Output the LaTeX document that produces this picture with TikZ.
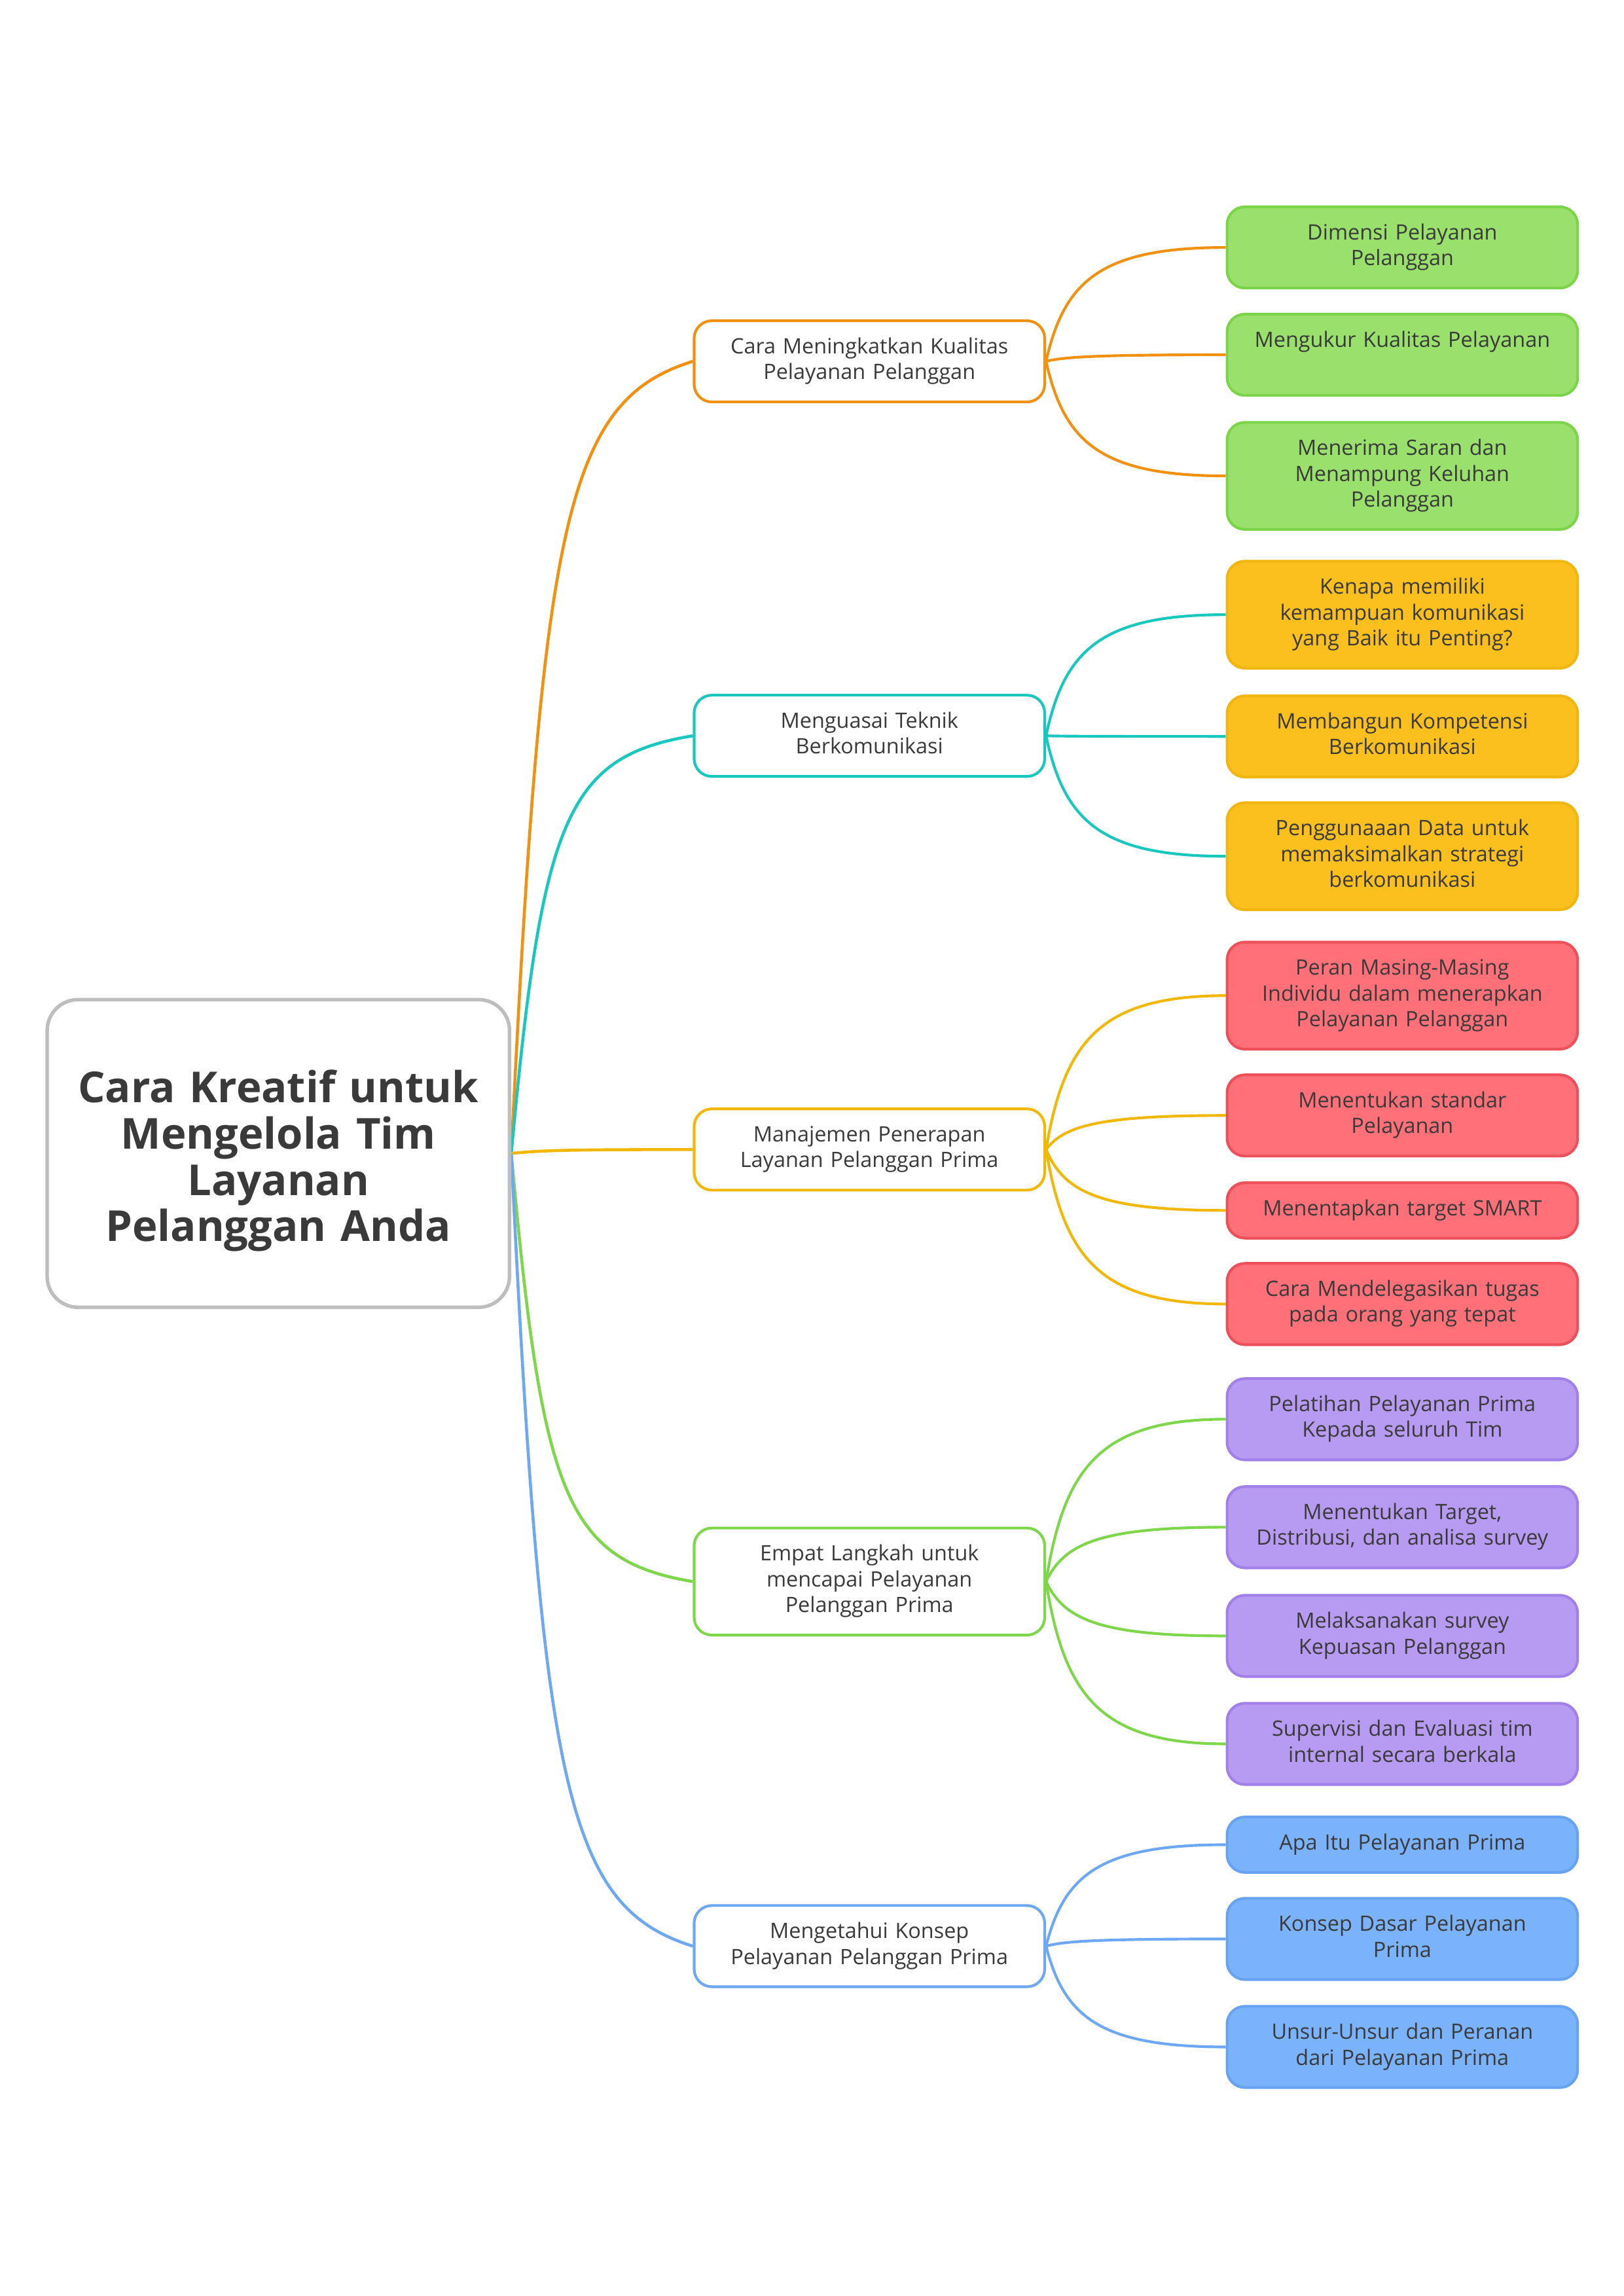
\documentclass[tikz,border=0pt]{standalone}
\usepackage{fontspec}
\setmainfont{Open Sans}
\usetikzlibrary{calc,backgrounds}
\definecolor{InkGray}{RGB}{58,58,58}
\definecolor{RootGray}{RGB}{190,190,190}
\definecolor{BrOrange}{RGB}{242,145,17}
\definecolor{BrTeal}{RGB}{24,200,190}
\definecolor{BrYellow}{RGB}{242,184,8}
\definecolor{BrGreen}{RGB}{126,214,74}
\definecolor{BrBlue}{RGB}{110,168,245}
\definecolor{LfGreen}{RGB}{153,225,108}
\definecolor{LfGreenD}{RGB}{124,212,72}
\definecolor{LfAmber}{RGB}{252,192,30}
\definecolor{LfAmberD}{RGB}{242,182,16}
\definecolor{LfRed}{RGB}{255,112,120}
\definecolor{LfRedD}{RGB}{238,80,90}
\definecolor{LfPurple}{RGB}{183,154,242}
\definecolor{LfPurpleD}{RGB}{162,128,234}
\definecolor{LfBlue}{RGB}{122,179,252}
\definecolor{LfBlueD}{RGB}{104,162,242}

% curved links: root -> topic, topic -> leaf
\newcommand{\rootlink}[2]{%
  \draw[#1,line width=1.1pt] let \p1=(root.east), \p2=(#2.west) in
    (\p1) .. controls ({\x1+0.17*(\x2-\x1)},{\y1+0.8*(\y2-\y1)})
      and ({\x1+0.3*(\x2-\x1)},{\y1+0.95*(\y2-\y1)}) .. (\p2);}
\newcommand{\leaflink}[3]{%
  \draw[#1,line width=1pt] let \p1=(#2.east), \p2=(#3.west) in
    (\p1) .. controls ({\x1+0.1*(\x2-\x1)},{\y1+0.7*(\y2-\y1)})
      and ({\x1+0.3*(\x2-\x1)},\y2) .. (\p2);}

\begin{document}
\begin{tikzpicture}[
  root/.style={draw=RootGray,fill=white,line width=1.3pt,rounded corners=0.4cm,
               minimum width=5.98cm,minimum height=3.98cm,
               text width=5.6cm,align=center,text=InkGray,
               font={\fontsize{15.7}{17}\selectfont\bfseries}},
  topic/.style={fill=white,line width=1pt,rounded corners=0.23cm,
                minimum width=4.5cm,text width=4.3cm,align=center,
                inner ysep=5.45pt,text=InkGray,
                font={\fontsize{7.8}{9.5}\selectfont},
                execute at begin node=\strut,execute at end node=\strut},
  leaf/.style={topic},
  gleaf/.style={leaf,draw=LfGreenD,fill=LfGreen},
  aleaf/.style={leaf,draw=LfAmberD,fill=LfAmber},
  rleaf/.style={leaf,draw=LfRedD,fill=LfRed},
  pleaf/.style={leaf,draw=LfPurpleD,fill=LfPurple},
  bleaf/.style={leaf,draw=LfBlueD,fill=LfBlue},
]
\useasboundingbox (0,0) rectangle (21,-29.7);

\node[root] (root) at (3.6,-14.92)
  {\rule{0pt}{17.5pt}Cara Kreatif untuk\\Mengelola Tim\\Layanan\\Pelanggan Anda};

% topics
\node[topic,draw=BrOrange] (kualitas) at (11.245,-4.674)
  {Cara Meningkatkan Kualitas\\Pelayanan Pelanggan};
\node[topic,draw=BrTeal] (teknik) at (11.245,-9.518)
  {Menguasai Teknik\\Berkomunikasi};
\node[topic,draw=BrYellow] (manajemen) at (11.245,-14.869)
  {Manajemen Penerapan\\Layanan Pelanggan Prima};
\node[topic,draw=BrGreen] (langkah) at (11.245,-20.458)
  {Empat Langkah untuk\\mencapai Pelayanan\\Pelanggan Prima};
\node[topic,draw=BrBlue] (konsep) at (11.245,-25.174)
  {Mengetahui Konsep\\Pelayanan Pelanggan Prima};

% leaves
\node[gleaf] (dimensi) at (18.138,-3.201) {Dimensi Pelayanan\\Pelanggan};
\node[gleaf] (ukur) at (18.138,-4.589) {Mengukur Kualitas Pelayanan\\\mbox{}};
\node[gleaf] (saran) at (18.138,-6.156)
  {Menerima Saran dan\\Menampung Keluhan\\Pelanggan};

\node[aleaf] (kenapa) at (18.138,-7.951)
  {Kenapa memiliki\\kemampuan komunikasi\\yang Baik itu Penting?};
\node[aleaf] (kompetensi) at (18.138,-9.526) {Membangun Kompetensi\\Berkomunikasi};
\node[aleaf] (data) at (18.138,-11.076)
  {Penggunaaan Data untuk\\memaksimalkan strategi\\berkomunikasi};

\node[rleaf] (peran) at (18.138,-12.879)
  {Peran Masing-Masing\\Individu dalam menerapkan\\Pelayanan Pelanggan};
\node[rleaf] (standar) at (18.138,-14.429) {Menentukan standar\\Pelayanan};
\node[rleaf] (smart) at (18.138,-15.657) {Menentapkan target SMART};
\node[rleaf] (delegasi) at (18.138,-16.868)
  {Cara Mendelegasikan tugas\\pada orang yang tepat};

\node[pleaf] (pelatihan) at (18.138,-18.358)
  {Pelatihan Pelayanan Prima\\Kepada seluruh Tim};
\node[pleaf] (target) at (18.138,-19.755)
  {Menentukan Target,\\Distribusi, dan analisa survey};
\node[pleaf] (survey) at (18.138,-21.161)
  {Melaksanakan survey\\Kepuasan Pelanggan};
\node[pleaf] (supervisi) at (18.138,-22.558)
  {Supervisi dan Evaluasi tim\\internal secara berkala};

\node[bleaf] (apa) at (18.138,-23.862) {Apa Itu Pelayanan Prima};
\node[bleaf] (dasar) at (18.138,-25.081) {Konsep Dasar Pelayanan\\Prima};
\node[bleaf] (unsur) at (18.138,-26.478)
  {Unsur-Unsur dan Peranan\\dari Pelayanan Prima};

\begin{scope}[on background layer]
  \fill[white] (0,0) rectangle (21,-29.7);
  \rootlink{BrOrange}{kualitas}
  \rootlink{BrTeal}{teknik}
  \rootlink{BrYellow}{manajemen}
  \rootlink{BrGreen}{langkah}
  \rootlink{BrBlue}{konsep}
  \foreach \leafname in {dimensi,ukur,saran}
    {\leaflink{BrOrange}{kualitas}{\leafname}}
  \foreach \leafname in {kenapa,kompetensi,data}
    {\leaflink{BrTeal}{teknik}{\leafname}}
  \foreach \leafname in {peran,standar,smart,delegasi}
    {\leaflink{BrYellow}{manajemen}{\leafname}}
  \foreach \leafname in {pelatihan,target,survey,supervisi}
    {\leaflink{BrGreen}{langkah}{\leafname}}
  \foreach \leafname in {apa,dasar,unsur}
    {\leaflink{BrBlue}{konsep}{\leafname}}
\end{scope}
\end{tikzpicture}
\end{document}
